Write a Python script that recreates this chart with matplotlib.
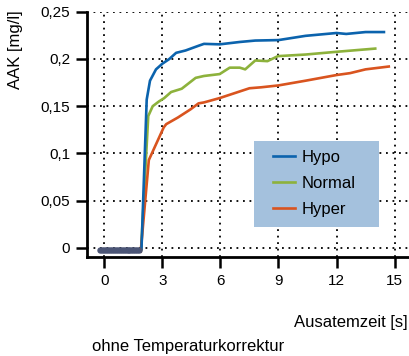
import matplotlib
matplotlib.use("Agg")
import matplotlib.pyplot as plt
from matplotlib.patches import Rectangle

plt.rcParams['font.family'] = ['Liberation Sans', 'DejaVu Sans']

# Flat baseline before exhalation (markers)
base_x = [-0.2, -0.1, 0.0, 0.1, 0.2, 0.3, 0.4, 0.5, 0.6, 0.7, 0.8, 0.9,
          1.0, 1.1, 1.2, 1.3, 1.4, 1.5, 1.6, 1.7, 1.8]
base_y = [-0.002] * len(base_x)

hypo_x = [1.92, 2.19, 2.36, 2.67, 3.0, 3.36, 3.71, 4.2, 4.87, 5.15, 5.96,
          7.0, 7.8, 9.0, 10.4, 12.0, 12.5, 13.5, 14.45]
hypo_y = [-0.001, 0.157, 0.177, 0.189, 0.195, 0.2, 0.2065, 0.209, 0.214,
          0.216, 0.2155, 0.218, 0.2195, 0.22, 0.2245, 0.2275, 0.2265, 0.2285, 0.2285]

normal_x = [1.9, 2.27, 2.5, 2.82, 3.09, 3.45, 4.0, 4.72, 5.15, 5.96, 6.48,
            7.0, 7.28, 7.8, 8.43, 8.97, 10.4, 12.0, 14.0]
normal_y = [-0.002, 0.1396, 0.15, 0.155, 0.1585, 0.165, 0.1685, 0.18, 0.182,
            0.184, 0.1908, 0.1908, 0.189, 0.1984, 0.1977, 0.203, 0.2047, 0.2076, 0.211]

hyper_x = [1.88, 2.3, 3.07, 3.2, 3.8, 4.45, 4.87, 5.15, 5.96, 7.5, 8.1, 9.0,
           10.4, 12.0, 12.7, 13.5, 14.5, 14.7]
hyper_y = [-0.004, 0.093, 0.1276, 0.131, 0.138, 0.1466, 0.153, 0.154, 0.1586,
           0.169, 0.17, 0.172, 0.177, 0.183, 0.185, 0.189, 0.1915, 0.192]

x_ticks = [0, 3, 6, 9, 12, 15]
y_ticks = [0, 0.05, 0.1, 0.15, 0.2, 0.25]
y_tick_labels = ['0', '0,05', '0,1', '0,15', '0,2', '0,25']

fig = plt.figure(figsize=(4.1, 3.56), dpi=100)
ax = fig.add_axes([0.2115, 0.2772, 0.783, 0.6898])

grid_style = dict(color='black', linestyle=(0, (1, 2.6)), linewidth=1.3, zorder=1)
for xv in x_ticks:
    ax.axvline(xv, **grid_style)
for yv in y_ticks:
    ax.axhline(yv, **grid_style)

ax.plot(hypo_x, hypo_y, color='#0b63ad', lw=1.9, label='Hypo', zorder=4)
ax.plot(normal_x, normal_y, color='#8db23c', lw=1.9, label='Normal', zorder=3.5)
ax.plot(hyper_x, hyper_y, color='#d9541f', lw=1.9, label='Hyper', zorder=3.8)
ax.plot(base_x, base_y, color='#4b5576', lw=2, marker='o', ms=3.6, zorder=5)

ax.set_xlim(-0.91, 15.68)
ax.set_ylim(-0.01, 0.25)
ax.set_xticks(x_ticks)
ax.set_yticks(y_ticks)
ax.set_yticklabels(y_tick_labels)
ax.tick_params(direction='out', length=8, width=1.8, labelsize=11, pad=4)

for s in ['top', 'right']:
    ax.spines[s].set_visible(False)
for s in ['left', 'bottom']:
    ax.spines[s].set_linewidth(2)

# legend background box
ax.add_patch(Rectangle((0.521, 0.123), 0.389, 0.35, transform=ax.transAxes,
                       facecolor='#a4c1dd', edgecolor='none', zorder=6))
leg = ax.legend(loc='upper left', bbox_to_anchor=(0.581, 0.439), frameon=False,
                fontsize=12, handlelength=1.3, handletextpad=0.4,
                labelspacing=0.66, borderpad=0, borderaxespad=0)
leg.set_zorder(7)

fig.text(0.039, 0.86, 'AAK [mg/l]', rotation=90, ha='center', va='center', fontsize=12)
fig.text(0.995, 0.095, 'Ausatemzeit [s]', ha='right', va='center', fontsize=12)
fig.text(0.224, 0.028, 'ohne Temperaturkorrektur', ha='left', va='center', fontsize=12)

fig.savefig('out.png', dpi=100)
